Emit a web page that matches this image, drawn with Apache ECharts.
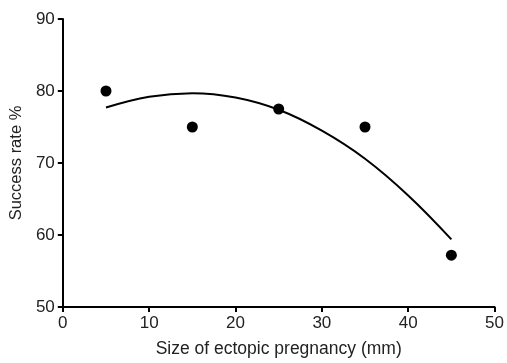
<!DOCTYPE html>
<html>
<head>
<meta charset="utf-8">
<script src="https://cdn.jsdelivr.net/npm/echarts@6/dist/echarts.min.js"></script>
<style>
html, body { margin: 0; padding: 0; background: #fff; }
#chart { width: 507px; height: 363px; }
</style>
</head>
<body>
<div id="chart"></div>
<script>
// measured points
var sizeMm = [5, 15, 25, 35, 45];
var successRate = [80, 75, 77.5, 75, 57.2];
// fitted curve
var curveX = [5, 10, 15, 20, 25, 30, 35, 40, 45];
var curveY = [77.7, 79.2, 79.7, 79.1, 77.4, 74.5, 70.6, 65.5, 59.4];

var chartDom = document.getElementById('chart');
var myChart = echarts.init(chartDom);
var font = 'Liberation Sans, Arial, Helvetica, sans-serif';
var axisCommon = {
	axisLine : { show : true, onZero : false, lineStyle : { color : '#000', width : 2 } },
	axisTick : { show : true, inside : false, length : 5, lineStyle : { color : '#000', width : 2 } },
	axisLabel : { color : '#222', fontSize : 17, fontFamily : font, margin : 8 },
	splitLine : { show : false }
};
var option = {
	animation : false,
	grid : { left : 62, right : 12, top : 19, bottom : 55 },
	xAxis : Object.assign({}, axisCommon, {
		type : 'value', min : 0, max : 50, interval : 10,
		name : 'Size of ectopic pregnancy (mm)',
		nameLocation : 'middle', nameGap : 33,
		nameTextStyle : { color : '#222', fontSize : 17.5, fontFamily : font }
	}),
	yAxis : Object.assign({}, axisCommon, {
		type : 'value', min : 50, max : 90, interval : 10,
		name : 'Success rate %',
		nameLocation : 'middle', nameGap : 35,
		nameTextStyle : { color : '#222', fontSize : 16.5, fontFamily : font }
	}),
	series : [ {
		type : 'line',
		data : curveX.map(function(x, i) { return [x, curveY[i]]; }),
		smooth : 0.4,
		showSymbol : false,
		lineStyle : { color : '#000', width : 2 }
	}, {
		type : 'scatter',
		data : sizeMm.map(function(x, i) { return [x, successRate[i]]; }),
		symbolSize : 11,
		itemStyle : { color : '#000', opacity : 1 }
	} ]
};
option && myChart.setOption(option);
</script>
</body>
</html>
